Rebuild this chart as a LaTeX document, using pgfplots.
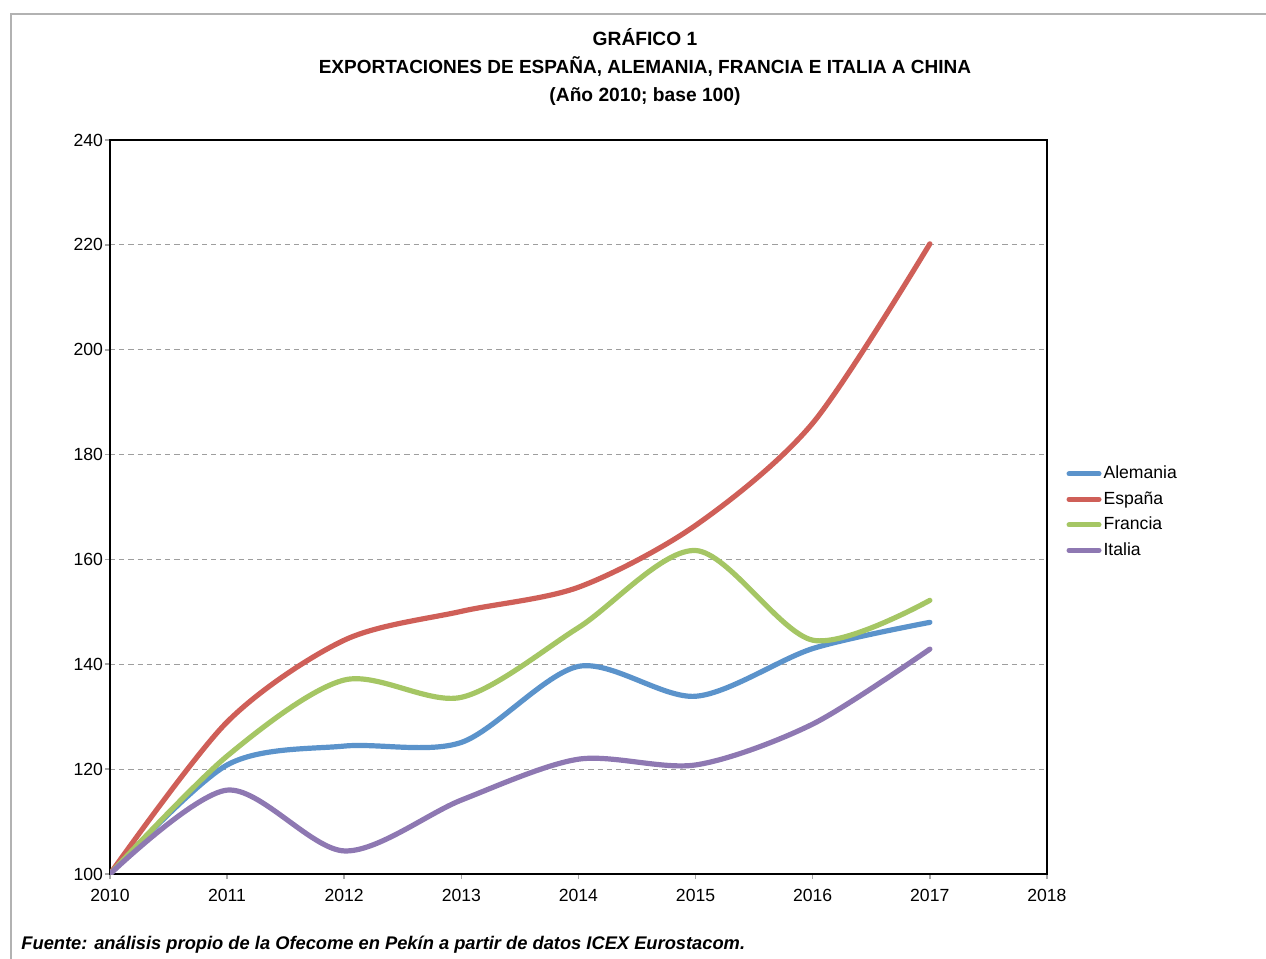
\documentclass[border=0pt]{standalone}
\usepackage{fontspec}
\setmainfont{Liberation Sans}
\usepackage{pgfplots}
\pgfplotsset{compat=1.18}
\definecolor{cAle}{HTML}{5B93CB}
\definecolor{cEsp}{HTML}{CF5F58}
\definecolor{cFra}{HTML}{A5C664}
\definecolor{cIta}{HTML}{8E78B2}
\begin{document}
\begin{tikzpicture}
\useasboundingbox (0,0) rectangle (633pt,-479.5pt);
\draw[color=black!30, line width=0.8pt] (5.5pt,-479.5pt) -- (5.5pt,-7pt) -- (633pt,-7pt);
\node[font=\fontsize{9.6}{12}\selectfont\bfseries] at (322.5pt,-18.5pt) {GRÁFICO 1};
\node[font=\fontsize{9.5}{12}\selectfont\bfseries] at (322.5pt,-33.5pt) {EXPORTACIONES DE ESPAÑA, ALEMANIA, FRANCIA E ITALIA A CHINA};
\node[font=\fontsize{9.6}{12}\selectfont\bfseries] at (322.5pt,-48.5pt) {(Año 2010; base 100)};
\node[font=\fontsize{9.15}{11}\selectfont\bfseries\itshape, anchor=west, inner sep=0pt] at (10.5pt,-472.5pt) {Fuente: análisis propio de la Ofecome en Pekín a partir de datos ICEX Eurostacom.};
\begin{axis}[
  at={(55pt,-70pt)}, anchor=north west,
  scale only axis, width=468.5pt, height=367pt,
  xmin=2010, xmax=2018, ymin=100, ymax=240,
  xtick={2010,...,2018}, ytick={100,120,...,240},
  /pgf/number format/1000 sep={},
  /pgf/number format/assume math mode=true,
  tick label style={font=\fontsize{8.8}{10}\selectfont},
  yticklabel style={xshift=2.5pt},
  xticklabel style={yshift=-1.5pt},
  tick align=outside, major tick length=2.5pt,
  tick style={color=black!35, line width=0.8pt},
  xtick pos=bottom, ytick pos=left,
  axis line style={black, line width=1pt},
  ymajorgrids,
  grid style={dash pattern=on 2.6pt off 2pt, color=black!38, line width=0.6pt},
  legend style={draw=none, at={(1.014,0.493)}, anchor=west,
    font=\fontsize{8.8}{10}\selectfont,
    nodes={inner sep=1pt, text height=7pt, text depth=2pt},
    row sep=1.75pt},
  legend cell align=left,
  legend image code/.code={\draw[#1, line width=2.5pt, line cap=round] (0pt,0pt) -- (15pt,0pt);},
  every axis plot/.append style={line width=2.6pt, line cap=round, line join=round, smooth, tension=0.5},
]
\addplot[cAle] coordinates {(2010,100) (2011,120.8) (2012,124.4) (2013,125.1) (2014,139.6) (2015,133.9) (2016,143) (2017,148)};
\addlegendentry{Alemania}
\addplot[cEsp] coordinates {(2010,100) (2011,129) (2012,144.6) (2013,150.1) (2014,154.7) (2015,166.5) (2016,186) (2017,220.2)};
\addlegendentry{España}
\addplot[cFra] coordinates {(2010,100) (2011,122.5) (2012,137) (2013,133.7) (2014,147) (2015,161.7) (2016,144.6) (2017,152.2)};
\addlegendentry{Francia}
\addplot[cIta] coordinates {(2010,100) (2011,116) (2012,104.4) (2013,114.1) (2014,121.9) (2015,120.8) (2016,128.6) (2017,142.9)};
\addlegendentry{Italia}
\end{axis}
\end{tikzpicture}
\end{document}
